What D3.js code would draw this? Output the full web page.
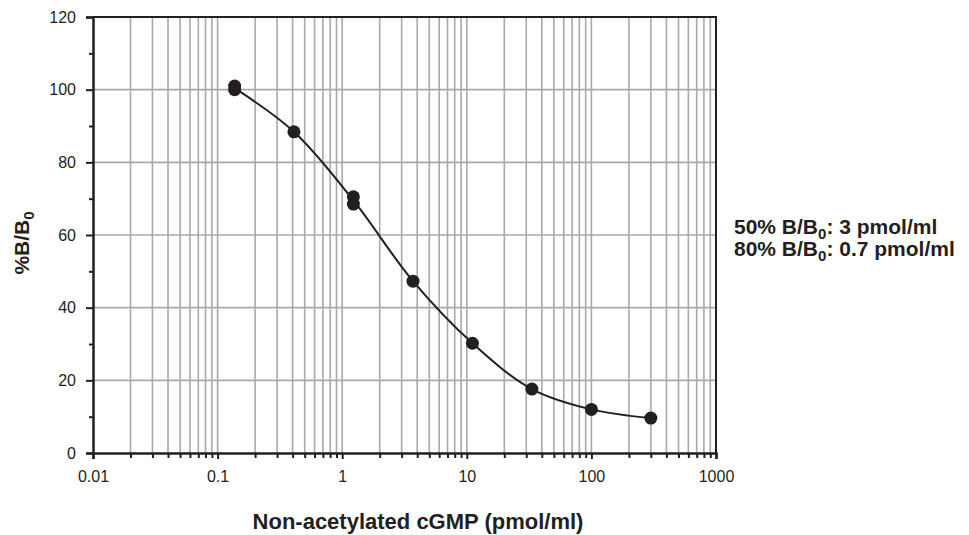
<!DOCTYPE html>
<html>
<head>
<meta charset="utf-8">
<script src="https://cdn.jsdelivr.net/npm/d3@7"></script>
<style>
  body { margin: 0; background: #fff; }
  text { font-family: "Liberation Sans", Arial, sans-serif; fill: #231f20; }
</style>
</head>
<body>
<script>
// Standard curve data (threefold dilutions)
var conc = [0.137, 0.137, 0.41, 1.23, 1.23, 3.7, 11.1, 33.3, 100, 300];
var pctB = [101, 100, 88.4, 70.5, 68.5, 47.3, 30.2, 17.6, 12.0, 9.6];

// fitted curve passes through replicate means
var curveX = [0.137, 0.41, 1.23, 3.7, 11.1, 33.3, 100, 300];
var curveY = [100.4, 88.4, 69.5, 47.3, 30.2, 17.6, 12.0, 9.6];

var xTicks = [0.01, 0.1, 1, 10, 100, 1000];
var yTicks = [0, 20, 40, 60, 80, 100, 120];
var yMinor = [10, 30, 50, 70, 90, 110];

var svgWidth = 969;
var svgHeight = 535;
var margin = { top: 17, right: 253, bottom: 82, left: 93 };
var width = svgWidth - margin.left - margin.right;
var height = svgHeight - margin.top - margin.bottom;

var svg = d3.select("body")
  .append("svg")
  .attr("width", svgWidth)
  .attr("height", svgHeight);

var chartGroup = svg.append("g")
  .attr("transform", `translate(${margin.left}, ${margin.top})`);

var xScale = d3.scaleLog().domain([0.01, 1000]).range([0, width]);
var yScale = d3.scaleLinear().domain([0, 120]).range([height, 0]);

// every minor value of the log axis
var xMinor = [];
xTicks.slice(0, -1).forEach(function (d) {
  for (var k = 2; k <= 9; k++) xMinor.push(d * k);
});

var gridColor = "#a7a9ac";

// vertical grid
chartGroup.selectAll(".vgrid")
  .data(xMinor.concat(xTicks.slice(1, -1)))
  .enter()
  .append("line")
  .attr("x1", d => xScale(d))
  .attr("x2", d => xScale(d))
  .attr("y1", 0)
  .attr("y2", height)
  .attr("stroke", gridColor)
  .attr("stroke-width", 1.6);

// horizontal grid
chartGroup.selectAll(".hgrid")
  .data(yTicks.slice(1, -1))
  .enter()
  .append("line")
  .attr("x1", 0)
  .attr("x2", width)
  .attr("y1", d => yScale(d))
  .attr("y2", d => yScale(d))
  .attr("stroke", gridColor)
  .attr("stroke-width", 1.6);

// frame top and right
chartGroup.append("path")
  .attr("d", `M0,0H${width}V${height}`)
  .attr("fill", "none")
  .attr("stroke", "#231f20")
  .attr("stroke-width", 2);

// x axis
var xAxis = d3.axisBottom(xScale)
  .tickValues(xTicks)
  .tickFormat(d3.format("~g"))
  .tickSize(6)
  .tickPadding(12);

chartGroup.append("g")
  .attr("transform", `translate(0,${height})`)
  .call(xAxis);

chartGroup.append("g")
  .attr("transform", `translate(0,${height})`)
  .call(d3.axisBottom(xScale).tickValues(xMinor).tickFormat("").tickSize(5))
  .call(g => g.select(".domain").remove());

// y axis
var yAxis = d3.axisLeft(yScale)
  .tickValues(yTicks)
  .tickSize(7)
  .tickPadding(10);

chartGroup.append("g").call(yAxis);

chartGroup.append("g")
  .call(d3.axisLeft(yScale).tickValues(yMinor).tickFormat("").tickSize(4))
  .call(g => g.select(".domain").remove());

chartGroup.selectAll(".domain, .tick line")
  .attr("stroke", "#231f20")
  .attr("stroke-width", 2);

chartGroup.selectAll(".domain")
  .attr("stroke-width", 2.5);

chartGroup.selectAll(".tick text")
  .style("font-size", "16px")
  .attr("fill", "#231f20");

// fitted curve
var line = d3.line()
  .x((d, i) => xScale(d))
  .y((d, i) => yScale(curveY[i]))
  .curve(d3.curveCatmullRom.alpha(0.5));

chartGroup.append("path")
  .datum(curveX)
  .attr("d", line)
  .attr("fill", "none")
  .attr("stroke", "#231f20")
  .attr("stroke-width", 2);

// points
chartGroup.selectAll(".pt")
  .data(conc)
  .enter()
  .append("circle")
  .attr("cx", d => xScale(d))
  .attr("cy", (d, i) => yScale(pctB[i]))
  .attr("r", 6.5)
  .attr("fill", "#231f20");

// axis titles
svg.append("text")
  .attr("x", 418)
  .attr("y", 529)
  .attr("text-anchor", "middle")
  .style("font-size", "22px")
  .style("font-weight", "bold")
  .text("Non-acetylated cGMP (pmol/ml)");

var yLabel = svg.append("text")
  .attr("transform", "translate(29,243)rotate(-90)")
  .attr("text-anchor", "middle")
  .style("font-size", "21px")
  .style("font-weight", "bold");
yLabel.append("tspan").text("%B/B");
yLabel.append("tspan").attr("dy", 5).style("font-size", "15px").text("0");

// annotation
var notes = [["50% B/B", ": 3 pmol/ml"], ["80% B/B", ": 0.7 pmol/ml"]];
notes.forEach(function (n, i) {
  var t = svg.append("text")
    .attr("x", 734)
    .attr("y", 234 + i * 22)
    .style("font-size", "21px")
    .style("font-weight", "bold");
  t.append("tspan").text(n[0]);
  t.append("tspan").attr("dy", 5).style("font-size", "15px").text("0");
  t.append("tspan").attr("dy", -5).text(n[1]);
});
</script>
</body>
</html>
